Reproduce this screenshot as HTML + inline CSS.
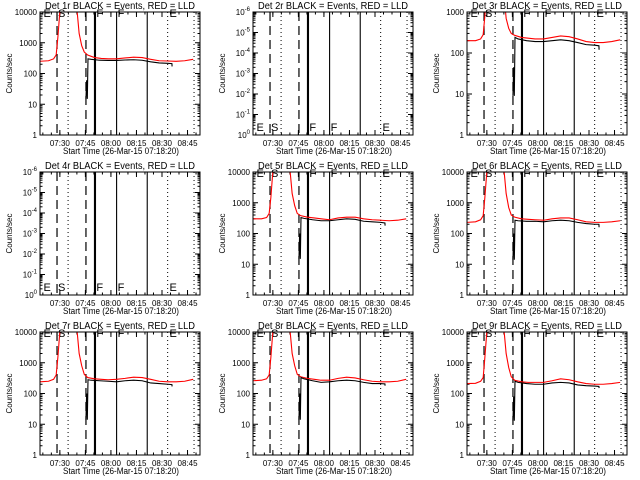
<!DOCTYPE html>
<html><head><meta charset="utf-8"><style>
html,body{margin:0;padding:0;background:#fff;}
svg{display:block;font-family:"Liberation Sans",sans-serif;}
</style></head><body>
<svg id="c" width="640" height="480" viewBox="0 0 640 480"></svg>
<script>
const panelTitles = ["Det 1r","Det 2r","Det 3r","Det 4r","Det 5r","Det 6r","Det 7r","Det 8r","Det 9r"];
const timeTicks = [11.67,26.67,41.67,56.67,71.67,86.67];
const timeTickLabels = ["07:30","07:45","08:00","08:15","08:30","08:45"];
const dashedTimes = [10,27];
const dottedTimes = [16.5,75,90.5];
const solidTimes = [32,32.6,45,63];
const letterTimes = [1.5,10,32.5,45,75.5];
const letterLabels = ["E","S","F","F","E"];
const redT = [0,5,8,9.5,10.5,11.5,12.5,21,22,23,24.5,26,28,32,36,40,45,50,55,60,65,70,75,80,85,90];
const blackT = [27,27.4,27.8,28.2,30,35,40,45,50,55,60,65,70,75,77.5,77.6];
const red1 = [250,260,300,400,1500,8000,30000,30000,8000,2000,800,500,400,330,310,300,300,320,340,330,290,260,255,250,260,290];
const black1 = [15,60,15,300,290,270,265,265,275,280,270,240,220,215,210,170];
const red3 = [200,200,220,280,800,3000,5000,5000,2000,700,400,300,270,240,230,220,220,240,260,250,220,190,180,180,190,210];
const black3 = [9,45,9,240,220,200,190,190,200,210,200,180,160,155,150,120];
const red5 = [300,300,330,450,1500,8000,30000,30000,8000,2000,800,450,380,340,320,300,280,320,340,340,300,280,270,260,270,300];
const black5 = [15,100,15,330,310,280,260,260,280,300,290,250,240,230,220,180];
const red6 = [230,240,280,380,1500,8000,30000,30000,8000,2000,700,400,340,300,290,280,270,300,320,320,280,240,230,230,240,260];
const black6 = [14,100,14,270,260,250,250,240,260,270,260,230,210,200,200,160];
const red7 = [240,250,290,400,1500,8000,30000,30000,8000,2000,800,420,330,300,290,280,290,310,340,330,290,250,240,240,250,290];
const black7 = [14,100,14,280,270,260,250,240,260,270,260,220,210,200,195,170];
const red8 = [260,270,300,400,1500,8000,30000,30000,8000,2000,800,420,350,310,290,270,270,310,340,320,280,250,240,240,250,290];
const black8 = [14,100,14,330,300,260,230,240,260,270,260,230,210,210,205,180];
const red9 = [210,215,250,330,1500,8000,30000,30000,8000,2000,700,350,270,240,230,230,230,260,300,280,240,210,200,200,210,230];
const black9 = [13,80,13,250,230,210,200,200,220,230,220,190,180,175,170,150];
const redSeries = [red1,null,red3,null,red5,red6,red7,red8,red9];
const blackSeries = [black1,null,black3,null,black5,black6,black7,black8,black9];
const yMaxes = [10000,1,1000,1,10000,10000,10000,10000,10000];

const NS="http://www.w3.org/2000/svg";
const svg=document.getElementById('c');
function mk(tag,attrs,parent){const e=document.createElementNS(NS,tag);for(const k in attrs)e.setAttribute(k,attrs[k]);parent.appendChild(e);return e;}
const L=40,R=200,T=12,B=135,TSPAN=94;
function xs(m){return L+(m/TSPAN)*(R-L);}

for(let p=0;p<9;p++){
  const col=p%3,row=Math.floor(p/3);
  const g=mk('g',{transform:`translate(${Math.round(col*213.33)},${row*160})`},svg);
  
  
  const empty=!redSeries[p];
  let lo,hi;
  if(empty){lo=-6;hi=0;}else{lo=0;hi=Math.log10(yMaxes[p]);}
  const ys=v=>empty?0:B-(Math.log10(v)-lo)/(hi-lo)*(B-T);
  const cid='clip'+p;
  const cp=mk('clipPath',{id:cid},g);mk('rect',{x:L,y:T,width:R-L,height:B-T},cp);
  const tt=mk('text',{x:45,y:9,'font-size':10,textLength:150,lengthAdjust:'spacingAndGlyphs'},g);
  tt.textContent=panelTitles[p]+" BLACK = Events, RED = LLD";
  
  
  const ndec=hi-lo;
  for(let d=0;d<=ndec;d++){
    const y=B-d/ndec*(B-T);
    mk('line',{x1:L,y1:y,x2:L+5,y2:y,stroke:'#000'},g);
    mk('line',{x1:R,y1:y,x2:R-5,y2:y,stroke:'#000'},g);
    const lab=mk('text',{x:37,y:y+3,'text-anchor':'end','font-size':8},g);
    if(empty){
      lab.textContent='10';
      const s=mk('tspan',{dy:-4,'font-size':6},lab);s.textContent=String(-d===0?0:-d);
    } else lab.textContent=String(Math.pow(10,d));
    
    
    if(d<ndec){for(let k=2;k<10;k++){const yy=y-Math.log10(k)/ndec*(B-T);
      mk('line',{x1:L,y1:yy,x2:L+2.5,y2:yy,stroke:'#000'},g);
      mk('line',{x1:R,y1:yy,x2:R-2.5,y2:yy,stroke:'#000'},g);}}
  }
  for(let m=1.67;m<TSPAN;m+=5){const x=xs(m);
    mk('line',{x1:x,y1:B,x2:x,y2:B-2.5,stroke:'#000'},g);mk('line',{x1:x,y1:T,x2:x,y2:T+2.5,stroke:'#000'},g);}
  timeTicks.forEach((m,i)=>{const x=xs(m);
    mk('line',{x1:x,y1:B,x2:x,y2:B-5,stroke:'#000'},g);mk('line',{x1:x,y1:T,x2:x,y2:T+5,stroke:'#000'},g);
    const t=mk('text',{x:x,y:146,'text-anchor':'middle','font-size':8},g);t.textContent=timeTickLabels[i];
    
    });
  const xt=mk('text',{x:63,y:154,'font-size':9,textLength:116,lengthAdjust:'spacingAndGlyphs'},g);
  xt.textContent="Start Time (26-Mar-15 07:18:20)";
  
  
  const yt=mk('text',{x:0,y:0,'text-anchor':'middle','font-size':8,transform:`translate(12,${(T+B)/2}) rotate(-90)`},g);
  yt.textContent="Counts/sec";
  
  
  dashedTimes.forEach(m=>{const l=mk('line',{x1:xs(m),y1:T,x2:xs(m),y2:B,stroke:'#000','stroke-width':1.2,'stroke-dasharray':'9,5'},g);
    
    });
  dottedTimes.forEach(m=>{const l=mk('line',{x1:xs(m),y1:T,x2:xs(m),y2:B,stroke:'#000','stroke-width':1,'stroke-dasharray':'1,3'},g);
    
    });
  solidTimes.forEach(m=>{const l=mk('line',{x1:xs(m),y1:T,x2:xs(m),y2:B,stroke:'#000','stroke-width':1.1},g);
    
    });
  letterTimes.forEach((m,i)=>{const t=mk('text',{x:xs(m)+1,y:empty?B-4:T+5,'font-size':11},g);t.textContent=letterLabels[i];
    
    });
  if(!empty){
    const rp=mk('polyline',{points:redT.map((t,i)=>xs(t)+','+ys(redSeries[p][i])).join(' '),fill:'none',stroke:'#f00','stroke-width':1.1,'clip-path':`url(#${cid})`},g);
    
    
    const bp=mk('polyline',{points:blackT.map((t,i)=>xs(t)+','+ys(blackSeries[p][i])).join(' '),fill:'none',stroke:'#000','stroke-width':1.1,'clip-path':`url(#${cid})`},g);
    
    
  }
  const fr=mk('rect',{x:L,y:T,width:R-L,height:B-T,fill:'none',stroke:'#000','stroke-width':1},g);
  
  
}
</script>
</body></html>
